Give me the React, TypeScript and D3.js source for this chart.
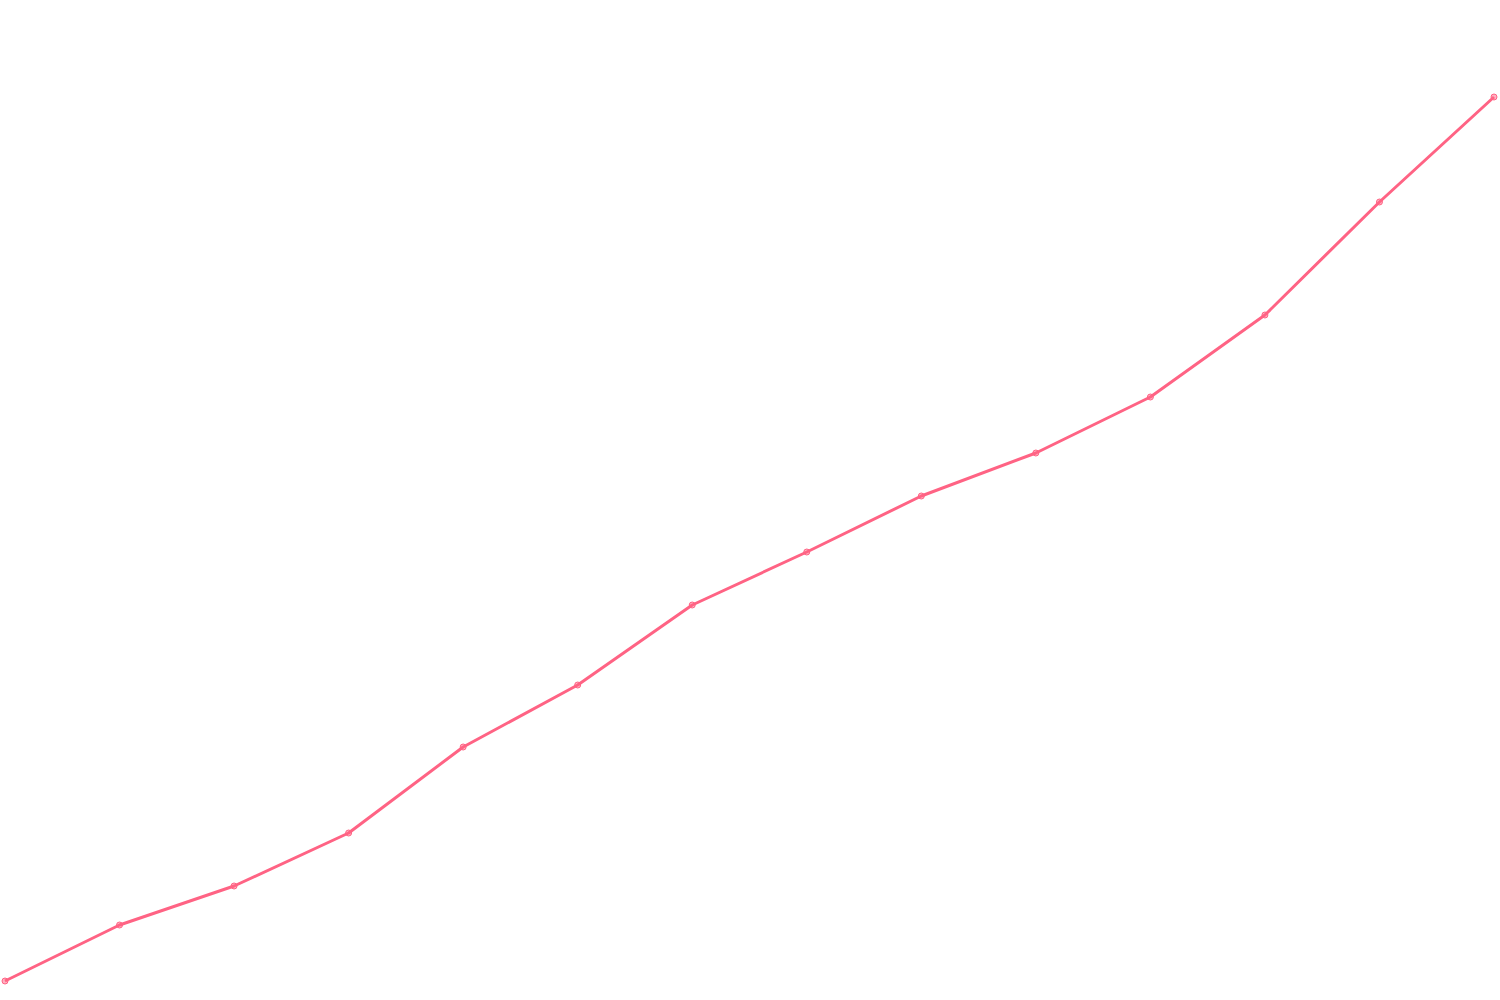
import React, { useEffect, useRef } from 'react';
import * as d3 from 'd3';

const width = 1500;
const height = 1000;

// one point per step, no labels shown in the chart
const steps = ['1', '2', '3', '4', '5', '6', '7', '8', '9', '10', '11', '12', '13', '14'];
const values = [1.9, 7.5, 11.4, 16.7, 25.3, 31.5, 39.5, 44.8, 50.4, 54.7, 60.3, 68.5, 79.8, 90.3];

const lineColor = '#ff6384';

export default function App() {
  const ref = useRef<SVGSVGElement>(null);

  useEffect(() => {
    if (!ref.current) return;
    const svg = d3.select(ref.current);
    svg.selectAll('*').remove();

    const x = d3.scalePoint<string>().domain(steps).range([5, 1494]);
    const y = d3.scaleLinear().domain([0, 100]).range([1000, 0]);

    const data = steps.map((s, i) => ({ s, v: values[i] }));

    const line = d3
      .line<{ s: string; v: number }>()
      .x((d) => x(d.s) ?? 0)
      .y((d) => y(d.v));

    svg
      .append('path')
      .datum(data)
      .attr('d', line)
      .attr('fill', 'none')
      .attr('stroke', lineColor)
      .attr('stroke-width', 3)
      .attr('stroke-linejoin', 'round');

    // point markers
    svg
      .selectAll('circle')
      .data(data)
      .enter()
      .append('circle')
      .attr('cx', (d) => x(d.s) ?? 0)
      .attr('cy', (d) => y(d.v))
      .attr('r', 3)
      .attr('fill', 'rgba(255, 99, 132, 0.5)')
      .attr('stroke', lineColor)
      .attr('stroke-width', 1);
  }, []);

  return (
    <svg
      ref={ref}
      width={width}
      height={height}
      style={{ position: 'absolute', left: 0, top: 0, background: '#fff' }}
    />
  );
}
